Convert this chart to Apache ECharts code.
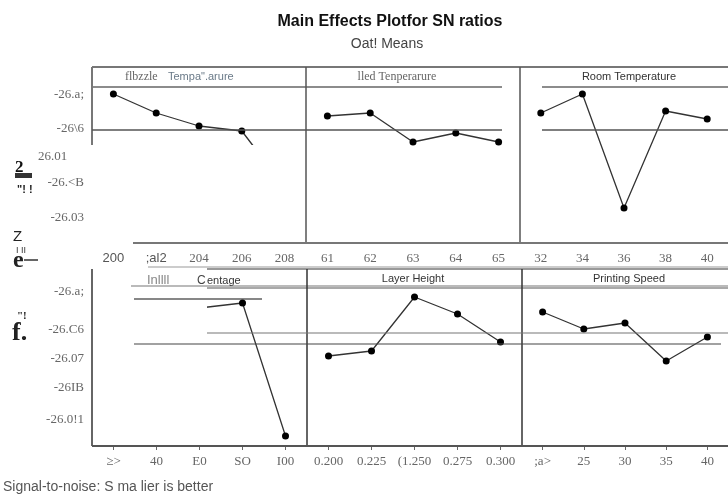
<!DOCTYPE html>
<html><head><meta charset="utf-8">
<script src="https://cdn.jsdelivr.net/npm/echarts@6/dist/echarts.min.js"></script>
<style>html,body{margin:0;padding:0;background:#fff}#c{width:728px;height:501px}</style>
</head><body><div id="c"></div>
<script>
// ---- data ----
const topCats1 = ['200', ';al2', '204', '206', '208'];
const topCats2 = ['61', '62', '63', '64', '65'];
const topCats3 = ['32', '34', '36', '38', '40'];
const botCats1 = ['≥>', '40', 'E0', 'SO', 'I00'];
const botCats2 = ['0.200', '0.225', '(1.250', '0.275', '0.300'];
const botCats3 = [';a>', '25', '30', '35', '40'];

const nozzleTemp = [-26.0335, -26.0430, -26.0495, -26.0520, -26.0800];
const bedTemp    = [-26.0445, -26.0430, -26.0575, -26.0530, -26.0575];
const roomTemp   = [-26.0430, -26.0335, -26.0905, -26.0420, -26.0460];
const infill     = [null, null, -26.0405, -26.0380, -26.1045];
const layerH     = [-26.0645, -26.0620, -26.0350, -26.0435, -26.0575];
const printSpd   = [-26.0425, -26.0510, -26.0480, -26.0670, -26.0550];

const topMean = -26.0515;
const botMean = -26.0530;
const botRefA = -26.0360;
const botRefB = -26.0585;

const topTickVals = [-26.034, -26.051, -26.065, -26.078, -26.0955];
const topTickLbls = ['-26.a;', '-26\\6', '26.01', '-26.<B', '-26.03'];
const botTickVals = [-26.0325, -26.0515, -26.066, -26.0805, -26.0965];
const botTickLbls = ['-26.a;', '-26.C6', '-26.07', '-26IB', '-26.0!1'];

const titles = ['flbzzle ', 'Tempa".arure', 'lled Tenperarure', 'Room Temperature', 'Layer Height', 'Printing Speed'];

// ---- layout ----
const serif = '"Liberation Serif","DejaVu Serif",serif';
const sans = '"Liberation Sans","DejaVu Sans",sans-serif';
const panels = [
  {left: 92, top: 87, w: 214, h: 156, cats: topCats1, data: nozzleTemp, min: -26.108, max: -26.030},
  {left: 306, top: 87, w: 214, h: 156, cats: topCats2, data: bedTemp, min: -26.108, max: -26.030},
  {left: 520, top: 87, w: 214, h: 156, cats: topCats3, data: roomTemp, min: -26.108, max: -26.030},
  {left: 92, top: 287, w: 215, h: 159, cats: botCats1, data: infill, min: -26.1095, max: -26.030},
  {left: 307, top: 287, w: 215, h: 159, cats: botCats2, data: layerH, min: -26.1095, max: -26.030},
  {left: 522, top: 287, w: 213, h: 159, cats: botCats3, data: printSpd, min: -26.1095, max: -26.030}
];

const chart = echarts.init(document.getElementById('c'));
const grids = [], xAxes = [], yAxes = [], series = [];
panels.forEach((p, i) => {
  grids.push({left: p.left, top: p.top, width: p.w, height: p.h, containLabel: false});
  const isTop = i < 3;
  xAxes.push({
    type: 'category', gridIndex: i, data: p.cats, boundaryGap: true,
    axisLine: {show: false},
    axisTick: {show: !isTop, alignWithLabel: true, length: 4, lineStyle: {color: '#666'}},
    axisLabel: {show: true, interval: 0, hideOverlap: false, margin: 9, color: '#666', fontFamily: serif, fontSize: 13,
      formatter: v => (v === '200' || v === ';al2') ? '{s|' + v + '}' : v,
      rich: {s: {fontFamily: sans, fontSize: 13, color: '#555'}}}
  });
  yAxes.push({
    type: 'value', gridIndex: i, min: p.min, max: p.max,
    axisLine: {show: false}, axisTick: {show: false}, axisLabel: {show: false}, splitLine: {show: false}
  });
  series.push({
    type: 'line', xAxisIndex: i, yAxisIndex: i, data: p.data, connectNulls: false,
    symbol: 'circle', symbolSize: 7, showAllSymbol: true, z: 3,
    lineStyle: {color: '#333', width: 1.3}, itemStyle: {color: '#000'}, animation: false
  });
});

chart.setOption({
  animation: false,
  title: [
    {text: 'Main Effects Plotfor SN ratios', left: 385, textAlign: 'center', top: 9,
      textStyle: {fontFamily: sans, fontWeight: 'bold', fontSize: 16, color: '#111'}},
    {text: 'Oat! Means', left: 382, textAlign: 'center', top: 32,
      textStyle: {fontFamily: sans, fontWeight: 'normal', fontSize: 14, color: '#444'}}
  ],
  grid: grids, xAxis: xAxes, yAxis: yAxes, series: series
});

// ---- frame / reference lines, positioned from the axes ----
const yPix = (idx, v) => chart.convertToPixel({yAxisIndex: idx}, v);
const g = [];
const line = (x1, y1, x2, y2, color, w, z) => g.push({type: 'line', z: z || 10, silent: true,
  shape: {x1, y1, x2, y2}, style: {stroke: color, lineWidth: w}});
const text = (x, y, t, opts) => g.push(Object.assign({type: 'text', z: 20, silent: true,
  style: Object.assign({x, y, text: t, fill: '#666', font: '13px ' + serif, textVerticalAlign: 'middle'}, opts || {})}));

// white patch (top-left panel)
g.push({type: 'rect', z: 5, silent: true, shape: {x: 93, y: 145, width: 212, height: 97}, style: {fill: '#fff'}});
// white patch (bottom-left panel)
g.push({type: 'rect', z: 5, silent: true, shape: {x: 94, y: 289, width: 113, height: 40}, style: {fill: '#fff'}});

// top row frame
line(92, 67, 728, 67, '#777', 2);
line(92, 87, 502, 87, '#666', 1.5);
line(542, 87, 728, 87, '#666', 1.5);
line(92, 67, 92, 145, '#777', 2);
line(306, 67, 306, 243, '#555', 1.5);
line(520, 67, 520, 243, '#555', 1.5);
line(133, 243, 728, 243, '#777', 2);
const ym = yPix(0, topMean);
line(92, ym, 502, ym, '#555', 1.3);
line(542, ym, 728, ym, '#555', 1.3);

// bottom row frame
line(148, 267, 728, 267, '#999', 1);
line(207, 269, 728, 269, '#777', 1.5);
line(131, 286, 728, 286, '#777', 1.2);
line(207, 288, 728, 288, '#555', 1.2);
line(92, 269, 92, 446, '#666', 2);
line(307, 269, 307, 446, '#333', 1.5);
line(522, 269, 522, 446, '#333', 1.5);
line(92, 446, 728, 446, '#555', 2);
const ya = yPix(3, botRefA), yb = yPix(3, botMean), yc = yPix(3, botRefB);
line(134, ya, 262, ya, '#111', 1.2);
line(207, yb, 728, yb, '#777', 1.2);
line(134, yc, 721, yc, '#444', 1.1);

// y tick labels
topTickVals.forEach((v, k) => text(84, yPix(0, v), topTickLbls[k],
  {textAlign: k === 2 ? 'left' : 'right', x: k === 2 ? 38 : 84}));
botTickVals.forEach((v, k) => text(84, yPix(3, v), botTickLbls[k], {textAlign: 'right'}));

// panel headers
text(125, 77, titles[0], {textAlign: 'left', font: '12px ' + serif, fill: '#666'});
text(168, 77, titles[1], {textAlign: 'left', font: '11px ' + sans, fill: '#6a7a88'});
text(397, 77, titles[2], {textAlign: 'center', font: '12px ' + serif, fill: '#666'});
text(629, 77, titles[3], {textAlign: 'center', font: '11px ' + sans, fill: '#333'});
text(413, 279, titles[4], {textAlign: 'center', font: '11px ' + sans, fill: '#333'});
text(629, 279, titles[5], {textAlign: 'center', font: '11px ' + sans, fill: '#333'});
text(147, 280, 'Inllll', {font: '13px ' + sans, fill: '#888'});
text(197, 281, 'C', {font: '12px ' + sans, fill: '#444'});
text(207, 281, 'entage', {font: '11px ' + sans, fill: '#333'});

// garbled axis title glyphs
text(15, 168, '2', {font: 'bold 17px ' + serif, fill: '#111'});
g.push({type: 'rect', z: 20, silent: true, shape: {x: 15, y: 173, width: 17, height: 5}, style: {fill: '#333'}});
text(17, 190, '"! !', {font: 'bold 11px ' + sans, fill: '#222'});
text(13, 237, 'Z', {font: '15px ' + sans, fill: '#222'});
text(16, 251, 'I II', {font: '9px ' + sans, fill: '#333'});
text(13, 261, 'e', {font: 'bold 24px ' + serif, fill: '#222'});
line(24, 260, 38, 260, '#333', 1.5, 21);
text(17, 316, '"!', {font: 'bold 11px ' + serif, fill: '#222'});
text(12, 333, 'f.', {font: 'bold 26px ' + serif, fill: '#222'});

// footer
text(3, 487, 'Signal-to-noise: S ma lier is better', {font: '14px ' + sans, fill: '#555'});

chart.setOption({graphic: g});
</script></body></html>
